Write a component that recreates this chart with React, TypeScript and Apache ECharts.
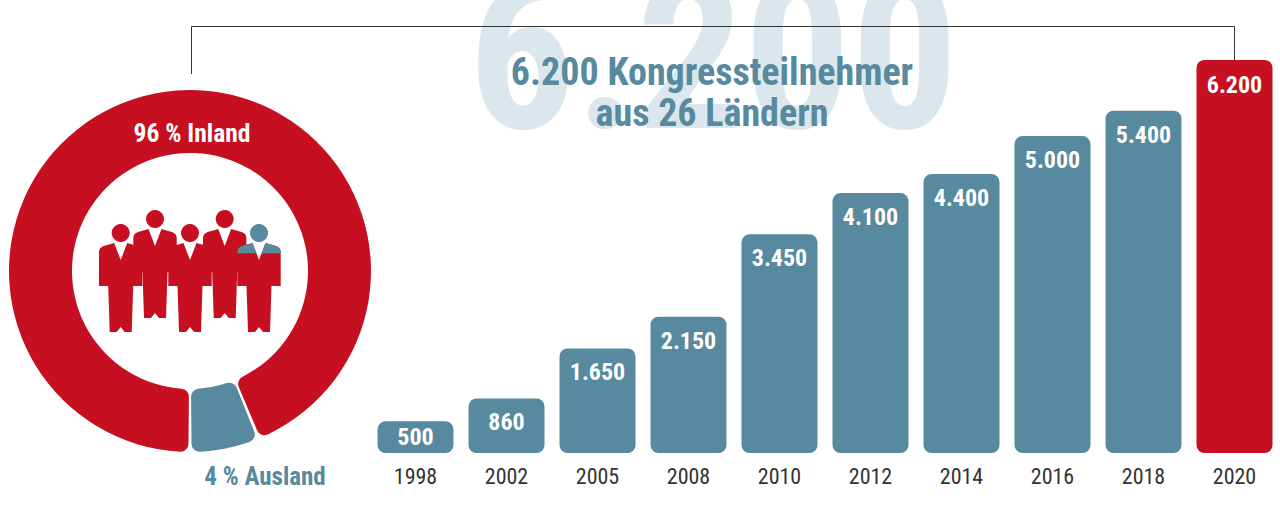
import React, { useEffect, useRef } from "react";
import * as echarts from "echarts";

const FONT = '"Liberation Sans Narrow", "Roboto Condensed", "Liberation Sans", sans-serif';
const BLUE = "#57899f";
const RED = "#c60f20";

const years = ["1998", "2002", "2005", "2008", "2010", "2012", "2014", "2016", "2018", "2020"];
const participants = [500, 860, 1650, 2150, 3450, 4100, 4400, 5000, 5400, 6200];
// Arc shares as drawn in the picture (the printed labels say 96 % / 4 %).
const ringNames = ["96 % Inland", "4 % Ausland"];
const ringDrawnShares = [93.8, 6.2];
const headlineLines = ["6.200 Kongressteilnehmer", "aus 26 Ländern"];
const bigNumber = "6.200";

const PERSON =
  "M-6.5 10L0 27L6.5 10L17 13C20 14 21.7 16 21.7 19L21.7 53L12.5 53L11 99L4 99L0 94L-4 99L-11 99L-12.5 53L-21.7 53L-21.7 19C-21.7 16 -20 14 -17 13Z";
const SHOULDERS =
  "M-6.5 10L-2.56 20.3L-21.7 20.3L-21.7 19C-21.7 16 -20 14 -17 13ZM6.5 10L2.56 20.3L21.7 20.3L21.7 19C21.7 16 20 14 17 13Z";
echarts.graphic.registerShape("person", echarts.graphic.extendPath(PERSON, {}) as any);
echarts.graphic.registerShape("shoulders", echarts.graphic.extendPath(SHOULDERS, {}) as any);

const people = [
  [120.7, 233],
  [155, 219],
  [190, 233],
  [224.7, 219],
  [259, 233],
];

export default function App() {
  const ref = useRef<HTMLDivElement>(null);
  useEffect(() => {
    document.body.style.margin = "0";
    const chart = echarts.init(ref.current!, undefined, { renderer: "svg" });
    const icons: any[] = [];
    people.forEach(([x, y], i) => {
      const last = i === people.length - 1;
      icons.push({ type: "circle", z: 5, shape: { cx: x, cy: y, r: 9 }, style: { fill: last ? BLUE : RED } });
      icons.push({ type: "person", z: 5, x, y, style: { fill: RED } });
      if (last) icons.push({ type: "shoulders", z: 6, x, y, style: { fill: BLUE } });
    });
    chart.setOption({
      animation: false,
      grid: { left: 370, top: 60, width: 910, height: 393, containLabel: false },
      xAxis: {
        type: "category",
        data: years,
        axisLine: { show: false },
        axisTick: { show: false },
        axisLabel: { color: "#333", fontFamily: FONT, fontSize: 22, margin: 12 },
      },
      yAxis: { type: "value", min: 0, max: 6200, show: false, splitLine: { show: false } },
      graphic: [
        {
          type: "text",
          z: 0,
          x: 713,
          y: 161,
          style: {
            text: bigNumber,
            fill: "#dbe6ed",
            font: `bold 212px ${FONT}`,
            textAlign: "center",
            textVerticalAlign: "bottom",
          },
        },
        {
          type: "polyline",
          z: 1,
          shape: { points: [[191.5, 74], [191.5, 26.5], [1234.5, 26.5], [1234.5, 60]] },
          style: { fill: "none", stroke: "#333", lineWidth: 1 },
        },
        {
          type: "text",
          z: 3,
          x: 712,
          y: 72,
          style: { text: headlineLines[0], fill: BLUE, font: `bold 38px ${FONT}`, textAlign: "center", textVerticalAlign: "middle" },
        },
        {
          type: "text",
          z: 3,
          x: 712,
          y: 113,
          style: { text: headlineLines[1], fill: BLUE, font: `bold 38px ${FONT}`, textAlign: "center", textVerticalAlign: "middle" },
        },
        {
          type: "text",
          z: 5,
          x: 192,
          y: 133,
          style: { text: ringNames[0], fill: "#fff", font: `bold 25.5px ${FONT}`, textAlign: "center", textVerticalAlign: "middle" },
        },
        {
          type: "text",
          z: 5,
          x: 265,
          y: 476,
          style: { text: ringNames[1], fill: BLUE, font: `bold 25px ${FONT}`, textAlign: "center", textVerticalAlign: "middle" },
        },
        ...icons,
      ],
      series: [
        {
          type: "bar",
          data: participants.map((v, i) => ({
            value: v,
            itemStyle: { color: i === participants.length - 1 ? RED : BLUE },
            label: { distance: i === 0 ? 4 : i === participants.length - 1 ? 13 : 12 },
          })),
          barWidth: 76,
          itemStyle: { borderRadius: 8 },
          label: {
            show: true,
            position: "insideTop",
            color: "#fff",
            fontFamily: FONT,
            fontWeight: "bold",
            fontSize: 24,
            formatter: (p: any) => String(p.value).replace(/(\d)(\d{3})$/, "$1.$2"),
          },
        },
        {
          type: "pie",
          center: [190, 271],
          radius: [118, 181],
          startAngle: 270,
          clockwise: true,
          padAngle: 1,
          label: { show: false },
          labelLine: { show: false },
          itemStyle: { borderRadius: 8 },
          data: [
            { name: ringNames[0], value: ringDrawnShares[0], itemStyle: { color: RED } },
            { name: ringNames[1], value: ringDrawnShares[1], itemStyle: { color: BLUE } },
          ],
        },
      ],
    });
    return () => chart.dispose();
  }, []);
  return <div ref={ref} style={{ width: 1280, height: 522 }} />;
}
